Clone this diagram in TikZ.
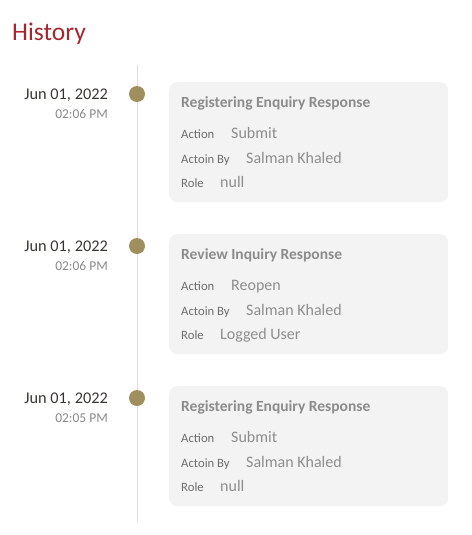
\documentclass[tikz,border=0pt]{standalone}
\usepackage{fontspec}
\setmainfont{Carlito}
\definecolor{histred}{HTML}{A5262E}
\definecolor{dotcol}{HTML}{A08F5E}
\definecolor{cardbg}{HTML}{F3F3F3}
\definecolor{linecol}{HTML}{DDDDDD}
\definecolor{datecol}{HTML}{3A3530}
\definecolor{timecol}{HTML}{8A8A8A}
\definecolor{titlecol}{HTML}{8C8C8C}
\definecolor{labcol}{HTML}{6E6E6E}
\definecolor{valcol}{HTML}{8E8E8E}
\tikzset{
  card/.style={fill=cardbg, rounded corners=8pt, minimum width=279pt, minimum height=120pt, anchor=north west, inner sep=0pt},
  dot/.style={circle, fill=dotcol, minimum size=16pt, inner sep=0pt},
  datetxt/.style={anchor=base east, inner sep=0pt, text=datecol, font=\fontsize{16.3}{16}\selectfont},
  timetxt/.style={anchor=base east, inner sep=0pt, text=timecol, font=\fontsize{13.5}{13}\selectfont},
  cardtitle/.style={anchor=base west, inner sep=0pt, text=titlecol, font=\fontsize{15.5}{15}\selectfont\bfseries},
  lab/.style={anchor=base west, inner sep=0pt, text=labcol, font=\fontsize{12.7}{12}\selectfont},
  val/.style={anchor=base west, inner sep=0pt, text=valcol, font=\fontsize{16}{16}\selectfont},
}
\begin{document}
\begin{tikzpicture}[x=1pt,y=-1pt]
\useasboundingbox (0,0) rectangle (471,535);
\node[anchor=base west, inner sep=0pt, text=histred, font=\fontsize{25.5}{25}\selectfont] (hist) at (12,41) {History};
\coordinate (ltop) at (137,65);
\coordinate (lbot) at (137,522);
\draw[linecol, line width=1pt] (ltop) -- (lbot);
% entries
\foreach \i/\y/\t/\title/\act/\role in {1/0/02:06 PM/Registering Enquiry Response/Submit/null,
  2/152/02:06 PM/Review Inquiry Response/Reopen/Logged User,
  3/304/02:05 PM/Registering Enquiry Response/Submit/null}{
  \node[dot] (dot\i) at (137,94+\y) {};
  \node[datetxt] (date\i) at (108,99+\y) {Jun 01, 2022};
  \node[timetxt] (time\i) at (108,118+\y) {\t};
  \node[card] (card\i) at (169,82+\y) {};
  \node[cardtitle] (ctitle\i) at (181,107+\y) {\title};
  \node[lab] (alab\i) at (181,138+\y) {Action};
  \node[val] (aval\i) at (231,138+\y) {\act};
  \node[lab] (blab\i) at (181,163+\y) {Actoin By};
  \node[val] (bval\i) at (246,163+\y) {Salman Khaled};
  \node[lab] (rlab\i) at (181,187+\y) {Role};
  \node[val] (rval\i) at (220,187+\y) {\role};
}
\end{tikzpicture}
\end{document}
